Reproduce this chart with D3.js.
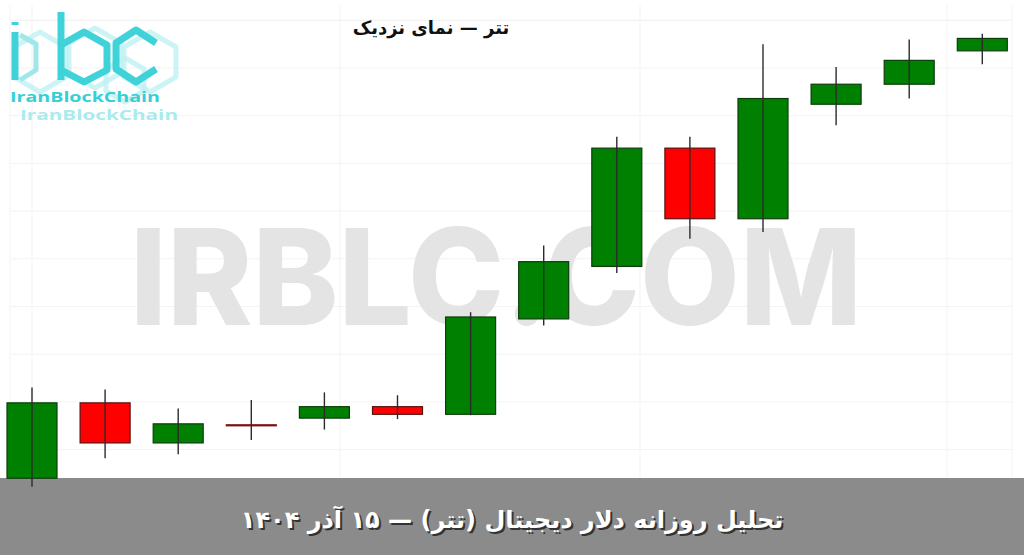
<!DOCTYPE html>
<html lang="fa">
<head>
<meta charset="utf-8">
<script src="https://cdn.jsdelivr.net/npm/d3@7"></script>
<style>
  html, body { margin: 0; padding: 0; background: #ffffff; }
  svg { display: block; }
</style>
</head>
<body>
<svg id="chart" width="1024" height="555"></svg>
<script>
// ---- data ----
const dates = ["۲ آذر","۳ آذر","۴ آذر","۵ آذر","۶ آذر","۷ آذر","۸ آذر","۹ آذر","۱۰ آذر","۱۱ آذر","۱۲ آذر","۱۳ آذر","۱۴ آذر","۱۵ آذر"];
const openVals  = [113700, 114490, 114070, 114260, 114330, 114450, 114370, 115370, 115920, 117160, 116420, 117620, 117830, 118180];
const highVals  = [114650, 114630, 114430, 114520, 114600, 114570, 115440, 116140, 117280, 117280, 118250, 118010, 118300, 118360];
const lowVals   = [113610, 113910, 113950, 114100, 114210, 114320, 114360, 115300, 115850, 116210, 116280, 117400, 117680, 118040];
const closeVals = [114490, 114070, 114270, 114255, 114450, 114370, 115390, 115970, 117160, 116420, 117680, 117830, 118080, 118310];
const priceDomain = [114000, 118500];
const titleText = "تتر — نمای نزدیک";
const footerText = "تحلیل روزانه دلار دیجیتال (تتر) — ۱۵ آذر ۱۴۰۴";
const watermarkText = "IRBLC.COM";
const logoText = "IranBlockChain";

const candles = dates.map((d, i) => ({date: d, o: openVals[i], h: highVals[i], l: lowVals[i], c: closeVals[i]}));

const W = 1024, H = 555;
const svg = d3.select("#chart");

const x = d3.scalePoint().domain(dates).range([32, 982.3]);
const y = d3.scaleLinear().domain(priceDomain).range([449.6, 20.3]);
const bodyW = x.step() * 0.684;

// footer bar (under the candles so the first wick shows over it)
svg.append("rect").attr("x", 0).attr("y", 478).attr("width", W).attr("height", H - 478).attr("fill", "#8b8b8b");

// grid
const grid = svg.append("g").attr("stroke", "#f3f3f3").attr("stroke-width", 1);
grid.selectAll("line.h").data(y.ticks(10).concat([118500])).join("line")
  .attr("class", "h")
  .attr("x1", 10).attr("x2", 1012)
  .attr("y1", d => y(d)).attr("y2", d => y(d));
const vx = [10, x(dates[0]), 340, 640, 947, 1012];
grid.selectAll("line.v").data(vx).join("line")
  .attr("class", "v")
  .attr("x1", d => d).attr("x2", d => d)
  .attr("y1", 5).attr("y2", 478);

// watermark
svg.append("text")
  .attr("x", 130).attr("y", 325)
  .attr("textLength", 732).attr("lengthAdjust", "spacingAndGlyphs")
  .attr("font-family", "Inter, 'Open Sans', sans-serif")
  .attr("font-weight", 800).attr("font-size", 134)
  .attr("fill", "#e4e4e4")
  .text(watermarkText);

// logo
const logo = svg.append("g").attr("fill", "none").attr("stroke-linejoin", "round");
function hexPath(cx, cy, r) {
  const pts = d3.range(6).map(k => {
    const a = Math.PI / 6 + k * Math.PI / 3;
    return [cx + r * Math.cos(a), cy + r * Math.sin(a)];
  });
  return "M" + pts.map(p => p.join(",")).join("L") + "Z";
}
// faded background hexagons
[[40, 62, 30], [95, 58, 30], [150, 62, 30], [125, 80, 22]].forEach(h => {
  logo.append("path").attr("d", hexPath(h[0], h[1], h[2])).attr("stroke", "#bff0f2").attr("stroke-width", 5).attr("opacity", 0.8);
});
// i
logo.append("path").attr("d", "M15,32 L15,80 M15,22 L15,25").attr("stroke", "#3fd3d9").attr("stroke-width", 7);
logo.append("path").attr("d", "M20,35 L36,44 L36,70 L20,80").attr("stroke", "#9fe7ea").attr("stroke-width", 5);
// b
logo.append("path").attr("d", "M61,12 L61,80").attr("stroke", "#3fd3d9").attr("stroke-width", 7);
logo.append("path").attr("d", "M61,45 L84,32 L107,45 L107,70 L84,82 L61,70").attr("stroke", "#3fd3d9").attr("stroke-width", 7);
// c
logo.append("path").attr("d", "M156,43 L136,30 L116,43 L116,69 L136,82 L156,69").attr("stroke", "#3fd3d9").attr("stroke-width", 7);
logo.append("text").attr("x", 10).attr("y", 102)
  .attr("textLength", 150).attr("lengthAdjust", "spacingAndGlyphs")
  .attr("font-family", "'Open Sans', sans-serif").attr("font-weight", 700).attr("font-size", 14)
  .attr("fill", "#35d0d6").attr("stroke", "none").text(logoText);
logo.append("text").attr("x", 20).attr("y", 120)
  .attr("textLength", 158).attr("lengthAdjust", "spacingAndGlyphs")
  .attr("font-family", "'Open Sans', sans-serif").attr("font-weight", 700).attr("font-size", 14)
  .attr("fill", "#a9ebee").attr("stroke", "none").text(logoText);

// candles
const cg = svg.append("g");
cg.selectAll("rect.body").data(candles).join("rect")
  .attr("class", "body")
  .attr("x", d => x(d.date) - bodyW / 2)
  .attr("width", bodyW)
  .attr("y", d => y(Math.max(d.o, d.c)))
  .attr("height", d => Math.max(1, Math.abs(y(d.o) - y(d.c))))
  .attr("fill", d => d.c >= d.o ? "#008000" : "#ff0000")
  .attr("stroke", d => d.c >= d.o ? "#0b3d0b" : (Math.abs(y(d.o) - y(d.c)) < 2 ? "#7a1212" : "#5a1010"))
  .attr("stroke-width", 1.2);
cg.selectAll("line.wick").data(candles).join("line")
  .attr("class", "wick")
  .attr("x1", d => x(d.date)).attr("x2", d => x(d.date))
  .attr("y1", d => y(d.h)).attr("y2", d => y(d.l))
  .attr("stroke", "#2b2b2b").attr("stroke-width", 1.4);

// title
svg.append("text")
  .attr("x", 431).attr("y", 34)
  .attr("text-anchor", "middle").attr("direction", "rtl")
  .attr("font-family", "'DejaVu Sans', sans-serif").attr("font-weight", 700).attr("font-size", 18)
  .attr("fill", "#111111")
  .text(titleText);

// footer text with shadow
const ft = svg.append("g").attr("font-family", "'DejaVu Sans', sans-serif").attr("font-weight", 700).attr("font-size", 24);
ft.append("text").attr("x", 514).attr("y", 530).attr("text-anchor", "middle").attr("direction", "rtl")
  .attr("fill", "#333333").text(footerText);
ft.append("text").attr("x", 512).attr("y", 528).attr("text-anchor", "middle").attr("direction", "rtl")
  .attr("fill", "#ffffff").text(footerText);
</script>
</body>
</html>
